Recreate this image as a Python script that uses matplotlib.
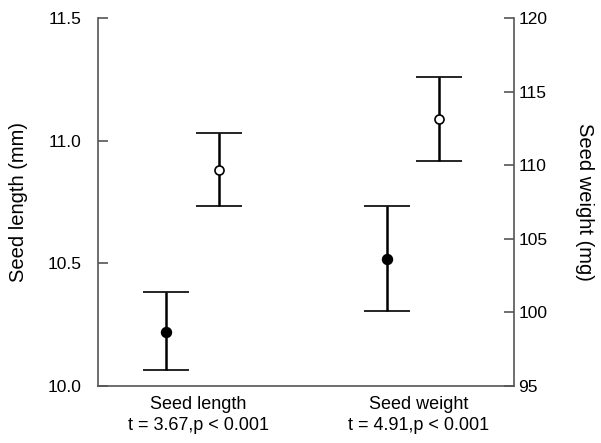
import matplotlib
matplotlib.use("Agg")
import matplotlib.pyplot as plt
import numpy as np

plt.rcParams['font.family'] = ['Liberation Sans', 'DejaVu Sans']

categories = ["Seed length\nt = 3.67,p < 0.001", "Seed weight\nt = 4.91,p < 0.001"]

# Seed length (left axis, mm)
len_filled_mean, len_filled_lo, len_filled_hi = 10.222, 10.064, 10.382
len_open_mean, len_open_lo, len_open_hi = 10.881, 10.735, 11.030
# Seed weight (right axis, mg)
wt_filled_mean, wt_filled_lo, wt_filled_hi = 103.6, 100.1, 107.2
wt_open_mean, wt_open_lo, wt_open_hi = 113.15, 110.3, 116.0

left_ticks = [10.0, 10.5, 11.0, 11.5]
right_ticks = [95, 100, 105, 110, 115, 120]

fig = plt.figure(figsize=(6.01, 4.43), dpi=100)
ax = fig.add_axes([0.1631, 0.1287, 0.8552 - 0.1631, 0.9594 - 0.1287])
ax2 = ax.twinx()

x = np.arange(1, len(categories) + 1)
off_f, off_o = -0.145, 0.095
spine_col = '#555555'
cap = 16.5
elw = 1.8

def eb(a, xp, m, lo, hi, filled):
    a.errorbar([xp], [m], yerr=[[m - lo], [hi - m]], fmt='o', color='black',
               ecolor='black', elinewidth=elw, capsize=cap, capthick=elw,
               markersize=7 if filled else 6.5,
               markerfacecolor='black' if filled else 'white',
               markeredgecolor='black', markeredgewidth=1.2, zorder=3)

eb(ax, x[0] + off_f, len_filled_mean, len_filled_lo, len_filled_hi, True)
eb(ax, x[0] + off_o, len_open_mean, len_open_lo, len_open_hi, False)
eb(ax2, x[1] + off_f, wt_filled_mean, wt_filled_lo, wt_filled_hi, True)
eb(ax2, x[1] + off_o, wt_open_mean, wt_open_lo, wt_open_hi, False)

ax.set_xlim(0.5465, 2.433)
ax.set_ylim(10.0, 11.5)
ax2.set_ylim(95, 120)
ax.set_yticks(left_ticks)
ax.set_yticklabels([f"{v:.1f}" for v in left_ticks])
ax2.set_yticks(right_ticks)
ax2.set_yticklabels([str(v) for v in right_ticks])
ax.set_xticks(x)
ax.set_xticklabels(categories, fontsize=13, linespacing=1.3)
ax.tick_params(axis='x', length=0, pad=7)
ax.tick_params(axis='y', direction='in', length=7, width=1.2, color=spine_col,
               labelsize=12.5, pad=12)
ax2.tick_params(axis='y', direction='in', length=7, width=1.2, color=spine_col,
                labelsize=12.5, pad=3)

for a in (ax, ax2):
    a.spines['top'].set_visible(False)
    for s in ('left', 'right', 'bottom'):
        a.spines[s].set_color(spine_col)
        a.spines[s].set_linewidth(1.2)
ax.spines['right'].set_visible(False)
ax2.spines['left'].set_visible(False)
ax2.spines['bottom'].set_visible(False)

ax.set_ylabel("Seed length (mm)", fontsize=14.5, labelpad=14)
ax2.set_ylabel("Seed weight (mg)", fontsize=14.5, rotation=270, labelpad=34)

fig.savefig("out.png", dpi=100)
